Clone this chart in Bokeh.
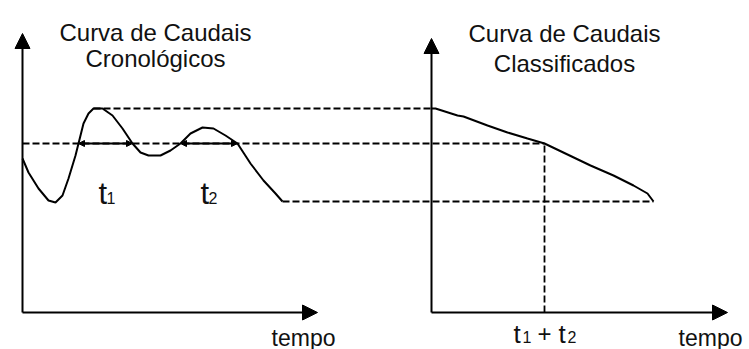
from bokeh.plotting import figure
from bokeh.models import Range1d, Arrow, NormalHead, ColumnDataSource
from bokeh.core.properties import value
from bokeh.embed import file_html
from bokeh.resources import INLINE

# ---- data (time, flow) ----
# chronological flow curve
chrono_t = [22, 28, 38, 48, 55, 62, 68, 75, 78, 83, 88, 93, 102, 112, 122, 132,
            140, 148, 160, 170, 180, 190, 202, 213, 225, 237, 250, 263, 275, 282]
chrono_q = [154, 140, 124, 112, 110, 117, 134, 157, 169, 189, 199, 204, 204, 197, 184, 169,
            160, 157, 157, 162, 169, 179, 185, 184, 177, 169, 149, 132, 119, 111]

# classified (duration) flow curve
class_t = [431, 435, 457, 463, 487, 507, 527, 544, 567, 590, 613, 633, 647, 653]
class_q = [204, 204, 197, 196, 187, 180, 174, 169, 158, 147, 137, 127, 119, 111]

q_max = 204
q_ref = 169
q_min = 111
t1_span = [78, 132]
t2_span = [180, 237]
t_sum = 544

# axes (origin x, origin y, y tip, x tip)
left_axis = (22, 0, 279, 317)
right_axis = (431, 0, 274, 727)

FONT = value("Liberation Sans")

p = figure(width=749, height=349, output_backend="svg", toolbar_location=None,
           x_range=Range1d(0, 749), y_range=Range1d(-37, 312),
           x_axis_location=None, y_axis_location=None, min_border=0)
p.grid.visible = False
p.outline_line_color = None
p.background_fill_color = "white"
p.border_fill_color = "white"

# axes with arrows
for ox, oy, ytip, xtip in (left_axis, right_axis):
    p.add_layout(Arrow(end=NormalHead(size=15, fill_color="black", line_color="black"),
                       x_start=ox, y_start=oy, x_end=ox, y_end=ytip,
                       line_width=2, line_color="black"))
    p.add_layout(Arrow(end=NormalHead(size=15, fill_color="black", line_color="black"),
                       x_start=ox, y_start=oy, x_end=xtip, y_end=oy,
                       line_width=2, line_color="black"))

# dashed projection lines
dash = dict(line_color="black", line_width=1.8, line_dash="7 3")
p.segment(x0=[chrono_t[11], chrono_t[0], chrono_t[-1], t_sum],
          y0=[q_max, q_ref, q_min, 0],
          x1=[class_t[0], t_sum, class_t[-1], t_sum],
          y1=[q_max, q_ref, q_min, q_ref], **dash)

# durations t1, t2 above the reference flow
for a, b in (t1_span, t2_span):
    p.add_layout(Arrow(start=NormalHead(size=6, fill_color="black", line_color="black"),
                       end=NormalHead(size=6, fill_color="black", line_color="black"),
                       x_start=a, y_start=q_ref, x_end=b, y_end=q_ref,
                       line_width=2, line_color="black"))

# curves
p.line(chrono_t, chrono_q, line_color="black", line_width=2)
p.line(class_t, class_q, line_color="black", line_width=2)

# ---- texts ----
titles = ColumnDataSource(dict(
    x=[155, 155, 564, 564], y=[280.5, 254, 279, 249],
    text=["Curva de Caudais", "Cronológicos", "Curva de Caudais", "Classificados"]))
p.text("x", "y", "text", source=titles, text_font=FONT, text_font_size="24px",
       text_align="center", text_baseline="alphabetic", text_color="#111111")

p.text(x=[303, 710], y=[-25, -25], text=["tempo", "tempo"], text_font=FONT,
       text_font_size="23px", text_align="center", text_baseline="alphabetic",
       text_color="#111111")

# t letters
p.text(x=[98, 200], y=[119, 119], text=["t", "t"], text_font=FONT, text_font_size="31px",
       text_align="left", text_baseline="alphabetic", text_color="#111111")
p.text(x=[106, 208], y=[115, 115], text=["1", "2"], text_font=FONT, text_font_size="16px",
       text_align="left", text_baseline="alphabetic", text_color="#111111")

p.text(x=[513, 558], y=[-21, -21], text=["t", "t"], text_font=FONT, text_font_size="26px",
       text_align="left", text_baseline="alphabetic", text_color="#111111")
p.text(x=[522, 567], y=[-24, -24], text=["1", "2"], text_font=FONT, text_font_size="16px",
       text_align="left", text_baseline="alphabetic", text_color="#111111")
p.text(x=[t_sum], y=[-21], text=["+"], text_font=FONT, text_font_size="24px",
       text_align="center", text_baseline="alphabetic", text_color="#111111")

open("out.html", "w").write(file_html(p, INLINE))
